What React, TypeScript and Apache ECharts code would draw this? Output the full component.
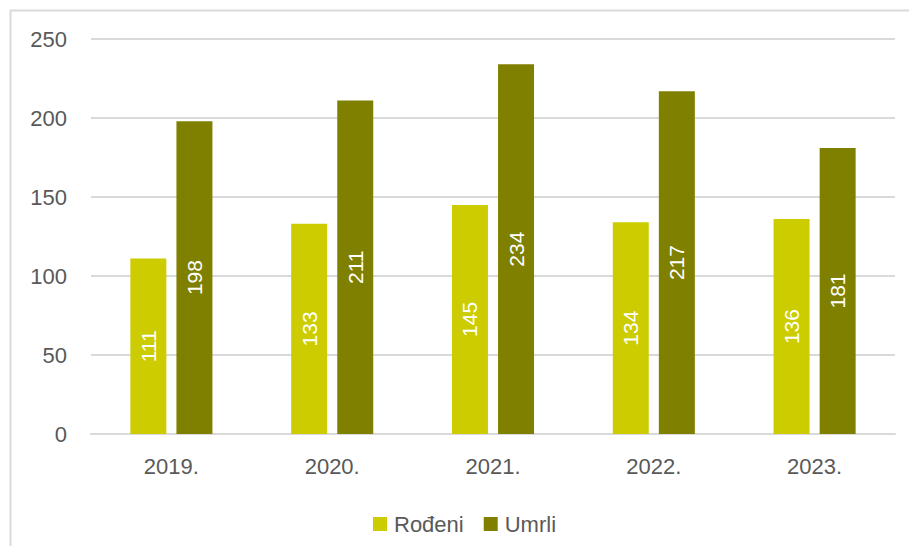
import React, { useEffect, useRef } from "react";
import * as echarts from "echarts";

const categories = ["2019.", "2020.", "2021.", "2022.", "2023."];
const rodjeni = [111, 133, 145, 134, 136];
const umrli = [198, 211, 234, 217, 181];
const seriesNames = ["Rođeni", "Umrli"];

export default function App() {
  const ref = useRef<HTMLDivElement>(null);
  useEffect(() => {
    if (!ref.current) return;
    const chart = echarts.init(ref.current, null, { renderer: "svg" });
    const font = "'Liberation Sans', Arial, sans-serif";
    const label = {
      show: true,
      position: "inside" as const,
      rotate: 90,
      color: "#ffffff",
      fontSize: 21,
      fontFamily: font,
    };
    chart.setOption({
      animation: false,
      backgroundColor: "#ffffff",
      graphic: [
        {
          type: "rect",
          shape: { x: 10.5, y: 10.5, width: 920, height: 560 },
          style: { fill: "none", stroke: "#d9d9d9", lineWidth: 2 },
          silent: true,
        },
      ],
      grid: { left: 91, right: 14, top: 39, bottom: 112, containLabel: false },
      legend: {
        data: seriesNames,
        left: 368,
        top: 508,
        itemWidth: 14,
        itemHeight: 14,
        itemGap: 20,
        icon: "rect",
        textStyle: { color: "#595959", fontSize: 22, fontFamily: font, padding: [0, 0, 0, 2] },
      },
      xAxis: {
        type: "category",
        data: categories,
        axisLine: { show: true, lineStyle: { color: "#d9d9d9", width: 2 } },
        axisTick: { show: false },
        axisLabel: { color: "#595959", fontSize: 22, fontFamily: font, margin: 21 },
      },
      yAxis: {
        type: "value",
        min: 0,
        max: 250,
        interval: 50,
        axisLine: { show: false },
        axisTick: { show: false },
        splitLine: { lineStyle: { color: "#d9d9d9", width: 2 } },
        axisLabel: { color: "#595959", fontSize: 22, fontFamily: font, margin: 24 },
      },
      series: [
        {
          name: seriesNames[0],
          type: "bar",
          data: rodjeni,
          barWidth: 36,
          barGap: "28%",
          itemStyle: { color: "#cccc00" },
          label,
        },
        {
          name: seriesNames[1],
          type: "bar",
          data: umrli,
          barWidth: 36,
          barGap: "28%",
          itemStyle: { color: "#808000" },
          label,
        },
      ],
    });
    return () => chart.dispose();
  }, []);
  return (
    <div
      ref={ref}
      style={{ position: "absolute", left: 0, top: 0, width: 909, height: 546 }}
    />
  );
}
